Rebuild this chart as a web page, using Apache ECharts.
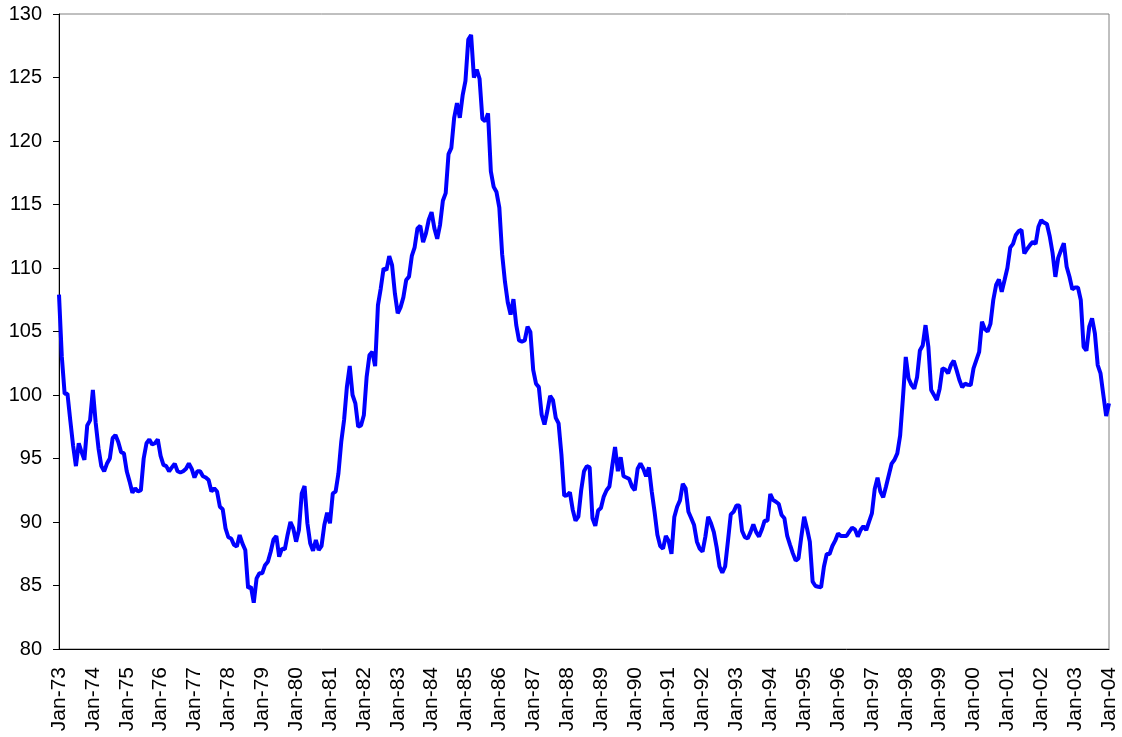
<!DOCTYPE html>
<html>
<head>
<meta charset="utf-8">
<script src="https://cdn.jsdelivr.net/npm/echarts@6/dist/echarts.min.js"></script>
<style>
html,body{margin:0;padding:0;background:#fff;}
#chart{width:1122px;height:737px;}
</style>
</head>
<body>
<div id="chart"></div>
<script>
const monthNames = ['Jan','Feb','Mar','Apr','May','Jun','Jul','Aug','Sep','Oct','Nov','Dec'];
const yearLabels = ['73','74','75','76','77','78','79','80','81','82','83','84','85','86','87','88','89','90','91','92','93','94','95','96','97','98','99','00','01','02','03','04'];

// Monthly index values, Jan-73 .. Jan-04
const values = [
107.9,103.0,100.1,100.1,98.0,96.0,94.4,96.2,95.5,94.9,97.6,98.0,
100.4,97.8,95.8,94.4,94.0,94.6,95.0,96.6,96.85,96.3,95.5,95.4,
94.0,93.2,92.3,92.65,92.4,92.5,95.0,96.2,96.5,96.1,96.2,96.5,
95.2,94.5,94.4,94.0,94.3,94.6,94.0,93.9,94.0,94.2,94.6,94.2,
93.5,94.0,94.0,93.6,93.5,93.3,92.4,92.65,92.4,91.2,91.0,89.5,
88.8,88.7,88.2,88.06,88.97,88.3,87.8,84.8,84.9,83.65,85.56,85.96,
85.96,86.6,86.87,87.66,88.63,88.9,87.27,87.9,87.85,89.0,90.0,89.5,
88.45,89.37,92.25,92.83,89.9,88.32,87.74,88.58,87.8,88.1,89.76,90.73,
89.9,92.25,92.39,93.83,96.32,98.03,100.65,102.28,100.0,99.34,97.5,97.6,
98.4,101.44,103.15,103.4,102.28,107.08,108.4,109.97,109.84,110.94,110.23,108.0,
106.43,106.9,107.69,109.05,109.32,110.95,111.63,113.12,113.32,112.04,112.72,113.8,
114.4,113.12,112.3,113.4,115.3,115.9,118.97,119.46,121.83,122.99,121.83,123.59,
124.73,127.99,128.35,125.0,125.63,124.9,121.74,121.55,122.18,117.61,116.39,115.98,
114.76,111.09,108.91,107.28,106.33,107.55,105.5,104.29,104.2,104.29,105.38,104.97,
101.98,100.89,100.62,98.44,97.68,98.72,99.94,99.6,98.2,97.76,95.32,92.06,
92.11,92.33,90.97,90.1,90.42,92.5,94.0,94.4,94.3,90.3,89.7,90.9,
91.1,92.0,92.5,92.8,94.4,95.9,94.0,95.1,93.6,93.5,93.4,92.8,
92.5,94.2,94.6,94.2,93.6,94.3,92.4,90.8,89.0,88.1,87.9,88.9,
88.5,87.5,90.4,91.2,91.7,93.0,92.65,90.81,90.3,89.76,88.45,87.9,
87.66,88.85,90.42,89.9,89.2,88.0,86.5,86.0,86.5,88.5,90.6,90.8,
91.3,91.3,89.3,88.8,88.7,89.2,89.8,89.2,88.85,89.4,90.1,90.1,
92.2,91.73,91.6,91.42,90.55,90.29,88.9,88.2,87.53,86.96,87.14,88.85,
90.42,89.5,88.45,85.3,84.96,84.9,84.86,86.48,87.48,87.48,88.11,88.53,
89.1,88.9,88.9,88.9,89.24,89.55,89.42,88.85,89.37,89.68,89.37,90.03,
90.68,92.6,93.49,92.39,91.94,92.8,93.7,94.6,94.9,95.4,96.8,99.8,
103.0,101.3,100.8,100.5,101.4,103.5,103.9,105.5,103.8,100.4,100.0,99.6,
100.5,102.1,102.0,101.7,102.36,102.7,101.96,101.18,100.6,100.9,100.8,100.78,
102.1,102.75,103.4,105.77,105.2,105.0,105.6,107.48,108.66,109.1,108.13,109.05,
110.0,111.6,111.9,112.6,112.9,113.0,111.15,111.5,111.8,112.07,111.89,113.25,
113.77,113.57,113.46,112.5,111.2,109.3,110.8,111.4,111.94,110.1,109.31,108.32,
108.47,108.47,107.48,103.8,103.49,105.38,106.03,104.85,102.36,101.7,100.0,98.34,
99.34
];

const categories = [];
for (let y = 0; y < yearLabels.length; y++) {
  for (let m = 0; m < 12; m++) {
    if (categories.length < values.length) categories.push(monthNames[m] + '-' + yearLabels[y]);
  }
}

const chart = echarts.init(document.getElementById('chart'), null, {renderer: 'canvas'});
const font = 'Arial, "Liberation Sans", sans-serif';
chart.setOption({
  animation: false,
  backgroundColor: '#ffffff',
  grid: {left: 59, right: 13, top: 14, bottom: 88, show: true, borderColor: '#808080', borderWidth: 1, backgroundColor: 'transparent'},
  xAxis: {
    type: 'category',
    data: categories,
    boundaryGap: false,
    axisLine: {show: true, lineStyle: {color: '#000', width: 1}},
    axisTick: {show: false},
    splitLine: {show: false},
    axisLabel: {interval: 11, rotate: 90, margin: 18, fontSize: 21, color: '#000', fontFamily: font}
  },
  yAxis: {
    type: 'value',
    min: 80, max: 130, interval: 5,
    axisLine: {show: true, lineStyle: {color: '#000', width: 1}},
    axisTick: {show: true, length: 6, lineStyle: {color: '#000'}},
    splitLine: {show: false},
    axisLabel: {margin: 17, fontSize: 20, color: '#000', fontFamily: font}
  },
  series: [{
    type: 'line',
    data: values,
    showSymbol: false,
    symbol: 'none',
    lineStyle: {color: '#0000ff', width: 4},
    itemStyle: {color: '#0000ff'}
  }]
});
</script>
</body>
</html>
